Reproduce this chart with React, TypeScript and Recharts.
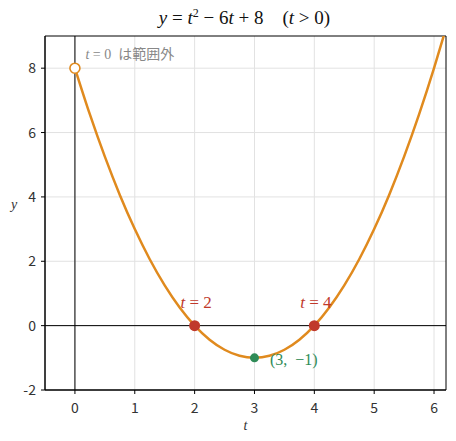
import {
  ComposedChart,
  Line,
  Scatter,
  XAxis,
  YAxis,
  CartesianGrid,
  ReferenceLine,
  ReferenceArea,
  LabelList,
} from "recharts";

// sampled curve y = t^2 - 6t + 8
const tValues = [0, 0.25, 0.5, 0.75, 1, 1.25, 1.5, 1.75, 2, 2.25, 2.5, 2.75, 3, 3.25, 3.5, 3.75, 4, 4.25, 4.5, 4.75, 5, 5.25, 5.5, 5.75, 6, 6.2];
const yValues = [8, 6.5625, 5.25, 4.0625, 3, 2.0625, 1.25, 0.5625, 0, -0.4375, -0.75, -0.9375, -1, -0.9375, -0.75, -0.4375, 0, 0.5625, 1.25, 2.0625, 3, 4.0625, 5.25, 6.5625, 8, 9.24];

const rootPoints = [
  { t: 2, y: 0, label: "2" },
  { t: 4, y: 0, label: "4" },
];
const vertexPoint = [{ t: 3, y: -1, label: "(3,  −1)" }];
const openPoint = [{ t: 0, y: 8, label: "は範囲外" }];

const xTicks = [0, 1, 2, 3, 4, 5, 6];
const yTicks = [-2, 0, 2, 4, 6, 8];

const ORANGE = "#E08A1E";
const RED = "#C0392B";
const GREEN = "#2E8B57";
const MATH = "'Liberation Serif', 'DejaVu Serif', serif";
const SANS = "'Noto Sans CJK JP', 'Noto Sans', sans-serif";

const curve = tValues.map((t, i) => ({ t, y: yValues[i] }));

const XTick = (props: any) => {
  const { x, y, payload } = props;
  return (
    <text x={x} y={y + 17} textAnchor="middle" fill="#333" fontSize={14} fontFamily={SANS}>
      {payload.value}
    </text>
  );
};

const YTick = (props: any) => {
  const { x, y, payload } = props;
  return (
    <text x={x - 3} y={y + 5} textAnchor="end" fill="#333" fontSize={14} fontFamily={SANS}>
      {payload.value}
    </text>
  );
};

const RootLabel = (props: any) => {
  const { x, y, value } = props;
  return (
    <text x={x + 6} y={y - 13} textAnchor="middle" fill={RED} fontFamily={MATH} fontSize={17} style={{ whiteSpace: "pre" }}>
      <tspan fontStyle="italic">t</tspan>
      <tspan>{" = " + value}</tspan>
    </text>
  );
};

const VertexLabel = (props: any) => {
  const { x, y, value } = props;
  return (
    <text x={x + 20} y={y + 12} fill={GREEN} fontFamily={MATH} fontSize={16} style={{ whiteSpace: "pre" }}>
      {value}
    </text>
  );
};

const OpenLabel = (props: any) => {
  const { x, y, value } = props;
  return (
    <text x={x + 15} y={y - 5} fill="#888" fontSize={14} fontFamily={SANS} style={{ whiteSpace: "pre" }}>
      <tspan fontFamily={MATH} fontStyle="italic">t</tspan>
      <tspan fontFamily={MATH}> = 0  </tspan>
      <tspan>{value}</tspan>
    </text>
  );
};

export default function App() {
  return (
    <div style={{ position: "relative", margin: -8, width: 456, height: 441, background: "#fff" }}>
      <div
        style={{
          position: "absolute",
          left: 43,
          width: 403,
          top: 6,
          textAlign: "center",
          fontFamily: MATH,
          fontSize: 19,
          color: "#111",
          whiteSpace: "pre",
        }}
      >
        <i>y</i> = <i>t</i>
        <sup style={{ fontSize: 12 }}>2</sup> − 6<i>t</i> + 8{"    "}(<i>t</i> &gt; 0)
      </div>
      <div
        style={{
          position: "absolute",
          left: 11,
          top: 197,
          fontFamily: MATH,
          fontStyle: "italic",
          fontSize: 14,
          color: "#333",
        }}
      >
        y
      </div>
      <ComposedChart
        width={456}
        height={441}
        margin={{ top: 36, right: 10, bottom: 21, left: 15 }}
        style={{ position: "absolute", left: 0, top: 0 }}
      >
        <CartesianGrid stroke="#e2e2e2" horizontalValues={yTicks} verticalValues={xTicks} />
        <XAxis
          type="number"
          dataKey="t"
          domain={[-0.5, 6.2]}
          ticks={xTicks}
          allowDataOverflow
          height={30}
          tickSize={4}
          tickLine={{ stroke: "#000" }}
          axisLine={{ stroke: "#000" }}
          tick={<XTick />}
          label={{ value: "t", position: "insideBottom", offset: -10, fontFamily: MATH, fontStyle: "italic", fontSize: 14, fill: "#333" }}
        />
        <YAxis
          type="number"
          dataKey="y"
          domain={[-2, 9]}
          ticks={yTicks}
          allowDataOverflow
          width={30}
          tickSize={4}
          tickLine={{ stroke: "#000" }}
          axisLine={{ stroke: "#000" }}
          tick={<YTick />}
        />
        <ReferenceArea x1={-0.5} x2={6.2} y1={-2} y2={9} fill="none" stroke="#000" strokeWidth={1} />
        <ReferenceLine x={0} stroke="#000" strokeWidth={1} />
        <ReferenceLine y={0} stroke="#000" strokeWidth={1} />
        <Line
          data={curve}
          dataKey="y"
          type="monotone"
          stroke={ORANGE}
          strokeWidth={2.5}
          dot={false}
          activeDot={false}
          isAnimationActive={false}
        />
        <Scatter
          data={openPoint}
          dataKey="y"
          isAnimationActive={false}
          shape={(p: any) => <circle cx={p.cx} cy={p.cy} r={5} fill="#fff" stroke={ORANGE} strokeWidth={1.6} />}
        >
          <LabelList dataKey="label" content={<OpenLabel />} />
        </Scatter>
        <Scatter
          data={rootPoints}
          dataKey="y"
          isAnimationActive={false}
          shape={(p: any) => <circle cx={p.cx} cy={p.cy} r={5.5} fill={RED} />}
        >
          <LabelList dataKey="label" content={<RootLabel />} />
        </Scatter>
        <Scatter
          data={vertexPoint}
          dataKey="y"
          isAnimationActive={false}
          shape={(p: any) => <circle cx={p.cx} cy={p.cy} r={4.5} fill={GREEN} />}
        >
          <LabelList dataKey="label" content={<VertexLabel />} />
        </Scatter>
      </ComposedChart>
    </div>
  );
}
